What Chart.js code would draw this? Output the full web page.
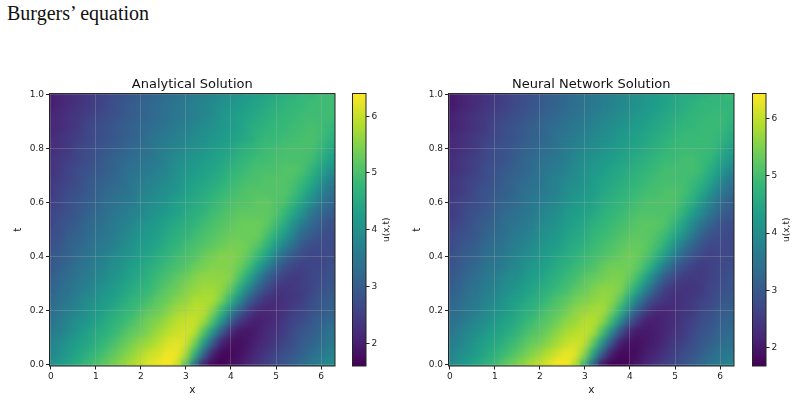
<!DOCTYPE html>
<html>
<head>
<meta charset="utf-8">
<title>Burgers' equation</title>
<script src="https://cdn.jsdelivr.net/npm/chart.js@4"></script>
<style>
  html, body { margin: 0; padding: 0; background: #fff; overflow: hidden; }
  #page { position: relative; width: 797px; height: 400px; }
  #heading { position: absolute; left: 7px; top: 2px; font: 20px "Liberation Serif", serif; color: #111; white-space: nowrap; }
  canvas { position: absolute; top: 70px; }
</style>
</head>
<body>
<div id="page">
  <div id="heading">Burgers’ equation</div>
  <canvas id="heatLeft" width="345" height="330" style="left:0"></canvas>
  <canvas id="barLeft" width="52" height="330" style="left:345px"></canvas>
  <canvas id="heatRight" width="345" height="330" style="left:399px"></canvas>
  <canvas id="barRight" width="52" height="330" style="left:745px"></canvas>
</div>
<script>
const xCells = [0, 0.2, 0.4, 0.6, 0.8, 1, 1.2, 1.4, 1.6, 1.8, 2, 2.2, 2.4, 2.6, 2.8, 3, 3.2, 3.4, 3.6, 3.8, 4, 4.2, 4.4, 4.6, 4.8, 5, 5.2, 5.4, 5.6, 5.8, 6, 6.2, 6.4];
const tCells = [0, 0.04, 0.08, 0.12, 0.16, 0.2, 0.24, 0.28, 0.32, 0.36, 0.4, 0.44, 0.48, 0.52, 0.56, 0.6, 0.64, 0.68, 0.72, 0.76, 0.8, 0.84, 0.88, 0.92, 0.96, 1];
const xTicks = [0, 1, 2, 3, 4, 5, 6];
const tTicks = [0, 0.2, 0.4, 0.6, 0.8, 1];
const colorbarTicks = [2, 3, 4, 5, 6];

// one row per entry of tCells, bottom row first
const analyticalU = [
  [4.0,4.2,4.4,4.6,4.8,5.0,5.2,5.4,5.6,5.8,6.0,6.2,6.3,6.4,6.1,5.2,3.5,2.1,1.7,1.6,1.8,1.9,2.1,2.3,2.5,2.7,2.9,3.1,3.3,3.5,3.7,3.9,4.1],
  [3.8,4.0,4.2,4.4,4.6,4.8,5.0,5.2,5.4,5.6,5.8,6.0,6.1,6.3,6.3,5.8,4.7,3.2,2.1,1.7,1.7,1.8,2.0,2.2,2.4,2.6,2.8,2.9,3.1,3.3,3.5,3.7,3.9],
  [3.7,3.9,4.1,4.3,4.4,4.6,4.8,5.0,5.2,5.4,5.6,5.7,5.9,6.1,6.2,6.1,5.4,4.3,3.0,2.1,1.8,1.8,1.9,2.1,2.2,2.4,2.6,2.8,3.0,3.1,3.3,3.5,3.7],
  [3.6,3.7,3.9,4.1,4.3,4.5,4.6,4.8,5.0,5.2,5.3,5.5,5.7,5.9,6.0,6.1,5.9,5.1,4.1,3.0,2.2,1.9,1.9,2.0,2.2,2.3,2.5,2.7,2.9,3.0,3.2,3.4,3.6],
  [3.4,3.6,3.8,4.0,4.1,4.3,4.5,4.7,4.8,5.0,5.2,5.4,5.5,5.7,5.9,6.0,6.0,5.7,5.0,4.1,3.1,2.4,2.1,2.0,2.1,2.2,2.4,2.6,2.7,2.9,3.1,3.2,3.4],
  [3.3,3.5,3.7,3.8,4.0,4.2,4.3,4.5,4.7,4.8,5.0,5.2,5.3,5.5,5.7,5.8,5.9,5.9,5.5,4.8,3.9,3.1,2.5,2.2,2.1,2.2,2.3,2.5,2.6,2.8,2.9,3.1,3.3],
  [3.2,3.4,3.5,3.7,3.9,4.0,4.2,4.3,4.5,4.7,4.8,5.0,5.2,5.3,5.5,5.6,5.8,5.8,5.8,5.4,4.7,3.9,3.1,2.6,2.3,2.2,2.3,2.4,2.5,2.7,2.9,3.0,3.2],
  [3.1,3.3,3.4,3.6,3.7,3.9,4.1,4.2,4.4,4.5,4.7,4.8,5.0,5.2,5.3,5.5,5.6,5.7,5.7,5.6,5.2,4.5,3.8,3.1,2.7,2.4,2.3,2.4,2.5,2.6,2.8,2.9,3.1],
  [3.0,3.2,3.3,3.5,3.6,3.8,3.9,4.1,4.2,4.4,4.5,4.7,4.9,5.0,5.2,5.3,5.5,5.6,5.6,5.6,5.5,5.0,4.4,3.7,3.1,2.7,2.5,2.4,2.5,2.6,2.7,2.8,3.0],
  [2.9,3.1,3.2,3.4,3.5,3.7,3.8,4.0,4.1,4.3,4.4,4.6,4.7,4.9,5.0,5.1,5.3,5.4,5.5,5.5,5.5,5.3,4.9,4.3,3.7,3.2,2.8,2.6,2.5,2.6,2.6,2.8,2.9],
  [2.9,3.0,3.1,3.3,3.4,3.6,3.7,3.9,4.0,4.1,4.3,4.4,4.6,4.7,4.9,5.0,5.1,5.3,5.4,5.5,5.5,5.4,5.2,4.8,4.3,3.7,3.2,2.9,2.7,2.6,2.6,2.7,2.8],
  [2.8,2.9,3.1,3.2,3.3,3.5,3.6,3.7,3.9,4.0,4.2,4.3,4.4,4.6,4.7,4.9,5.0,5.1,5.2,5.3,5.4,5.4,5.3,5.1,4.7,4.2,3.7,3.3,2.9,2.7,2.7,2.7,2.8],
  [2.7,2.8,3.0,3.1,3.2,3.4,3.5,3.6,3.8,3.9,4.1,4.2,4.3,4.5,4.6,4.7,4.9,5.0,5.1,5.2,5.3,5.3,5.3,5.3,5.0,4.6,4.2,3.7,3.2,3.0,2.8,2.7,2.8],
  [2.6,2.8,2.9,3.0,3.2,3.3,3.4,3.6,3.7,3.8,4.0,4.1,4.2,4.4,4.5,4.6,4.7,4.9,5.0,5.1,5.2,5.3,5.3,5.3,5.2,4.9,4.5,4.0,3.6,3.2,3.0,2.8,2.8],
  [2.6,2.7,2.8,2.9,3.1,3.2,3.3,3.5,3.6,3.7,3.8,4.0,4.1,4.2,4.3,4.5,4.6,4.7,4.9,5.0,5.1,5.2,5.2,5.2,5.2,5.1,4.8,4.4,4.0,3.5,3.2,3.0,2.9],
  [2.5,2.6,2.8,2.9,3.0,3.1,3.3,3.4,3.5,3.6,3.8,3.9,4.0,4.1,4.3,4.4,4.5,4.6,4.8,4.9,5.0,5.1,5.1,5.2,5.2,5.1,5.0,4.7,4.3,3.9,3.5,3.2,3.0],
  [2.4,2.6,2.7,2.8,2.9,3.1,3.2,3.3,3.4,3.5,3.7,3.8,3.9,4.0,4.1,4.3,4.4,4.5,4.6,4.8,4.9,5.0,5.1,5.1,5.1,5.1,5.1,4.9,4.6,4.2,3.8,3.4,3.2],
  [2.4,2.5,2.6,2.7,2.9,3.0,3.1,3.2,3.3,3.5,3.6,3.7,3.8,3.9,4.0,4.2,4.3,4.4,4.5,4.6,4.8,4.9,5.0,5.0,5.1,5.1,5.1,5.0,4.8,4.5,4.1,3.7,3.4],
  [2.3,2.4,2.6,2.7,2.8,2.9,3.0,3.1,3.3,3.4,3.5,3.6,3.7,3.8,4.0,4.1,4.2,4.3,4.4,4.5,4.7,4.8,4.9,5.0,5.0,5.0,5.1,5.1,5.0,4.7,4.4,4.0,3.7],
  [2.3,2.4,2.5,2.6,2.7,2.8,3.0,3.1,3.2,3.3,3.4,3.5,3.6,3.8,3.9,4.0,4.1,4.2,4.3,4.4,4.5,4.7,4.8,4.9,4.9,5.0,5.0,5.0,5.0,4.9,4.6,4.3,3.9],
  [2.2,2.3,2.4,2.6,2.7,2.8,2.9,3.0,3.1,3.2,3.3,3.4,3.6,3.7,3.8,3.9,4.0,4.1,4.2,4.3,4.4,4.6,4.7,4.8,4.9,4.9,5.0,5.0,5.0,5.0,4.8,4.5,4.2],
  [2.2,2.3,2.4,2.5,2.6,2.7,2.8,2.9,3.0,3.1,3.2,3.4,3.5,3.6,3.7,3.8,3.9,4.0,4.1,4.2,4.3,4.4,4.5,4.7,4.8,4.8,4.9,4.9,5.0,5.0,4.9,4.7,4.4],
  [2.1,2.2,2.3,2.4,2.6,2.7,2.8,2.9,3.0,3.1,3.2,3.3,3.4,3.5,3.6,3.7,3.8,3.9,4.0,4.1,4.2,4.3,4.5,4.6,4.7,4.8,4.8,4.9,4.9,5.0,4.9,4.8,4.6],
  [2.1,2.2,2.3,2.4,2.5,2.6,2.7,2.8,2.9,3.0,3.1,3.2,3.3,3.4,3.5,3.6,3.7,3.8,3.9,4.1,4.2,4.3,4.4,4.5,4.6,4.7,4.8,4.8,4.9,4.9,4.9,4.9,4.7],
  [2.0,2.1,2.2,2.3,2.4,2.5,2.6,2.8,2.9,3.0,3.1,3.2,3.3,3.4,3.5,3.6,3.7,3.8,3.9,4.0,4.1,4.2,4.3,4.4,4.5,4.6,4.7,4.8,4.8,4.9,4.9,4.9,4.8],
  [2.0,2.1,2.2,2.3,2.4,2.5,2.6,2.7,2.8,2.9,3.0,3.1,3.2,3.3,3.4,3.5,3.6,3.7,3.8,3.9,4.0,4.1,4.2,4.3,4.4,4.5,4.6,4.7,4.8,4.8,4.9,4.9,4.9],
];

const networkU = [
  [3.9,4.1,4.3,4.5,4.7,4.9,5.2,5.4,5.6,5.8,6.0,6.2,6.4,6.4,5.9,4.8,3.2,2.0,1.7,1.7,1.8,2.0,2.2,2.4,2.6,2.7,2.9,3.1,3.3,3.5,3.6,3.8,4.0],
  [3.8,4.0,4.1,4.3,4.5,4.7,4.9,5.1,5.3,5.5,5.7,5.9,6.1,6.3,6.2,5.6,4.4,3.0,2.1,1.8,1.8,1.9,2.1,2.2,2.4,2.6,2.8,2.9,3.1,3.3,3.5,3.6,3.8],
  [3.7,3.8,4.0,4.2,4.4,4.5,4.7,4.9,5.1,5.3,5.4,5.6,5.8,6.0,6.1,6.0,5.2,4.1,2.9,2.1,1.9,1.9,2.0,2.1,2.3,2.5,2.6,2.8,3.0,3.1,3.3,3.4,3.6],
  [3.5,3.7,3.9,4.0,4.2,4.4,4.5,4.7,4.9,5.1,5.2,5.4,5.6,5.8,5.9,6.0,5.8,5.0,3.9,2.9,2.2,2.0,2.0,2.1,2.2,2.4,2.5,2.7,2.9,3.0,3.2,3.3,3.5],
  [3.4,3.5,3.7,3.9,4.0,4.2,4.4,4.5,4.7,4.9,5.1,5.2,5.4,5.6,5.7,5.9,5.9,5.6,4.9,3.9,3.0,2.4,2.1,2.1,2.2,2.3,2.5,2.6,2.8,2.9,3.1,3.2,3.4],
  [3.3,3.4,3.6,3.7,3.9,4.1,4.2,4.4,4.6,4.7,4.9,5.1,5.2,5.4,5.6,5.7,5.8,5.8,5.4,4.7,3.8,3.0,2.5,2.2,2.2,2.3,2.4,2.5,2.7,2.8,3.0,3.1,3.3],
  [3.2,3.3,3.5,3.6,3.8,3.9,4.1,4.3,4.4,4.6,4.7,4.9,5.1,5.2,5.4,5.5,5.6,5.7,5.6,5.2,4.5,3.7,3.0,2.6,2.4,2.3,2.4,2.5,2.6,2.7,2.9,3.0,3.2],
  [3.1,3.2,3.4,3.5,3.7,3.8,4.0,4.1,4.3,4.4,4.6,4.7,4.9,5.0,5.2,5.3,5.5,5.6,5.6,5.5,5.0,4.4,3.7,3.0,2.6,2.4,2.4,2.4,2.5,2.7,2.8,2.9,3.1],
  [3.0,3.1,3.3,3.4,3.6,3.7,3.9,4.0,4.1,4.3,4.4,4.6,4.7,4.9,5.0,5.2,5.3,5.4,5.5,5.5,5.3,4.9,4.2,3.6,3.0,2.7,2.5,2.5,2.5,2.6,2.7,2.9,3.0],
  [2.9,3.0,3.2,3.3,3.5,3.6,3.7,3.9,4.0,4.2,4.3,4.4,4.6,4.7,4.9,5.0,5.1,5.3,5.4,5.4,5.4,5.2,4.8,4.2,3.6,3.1,2.8,2.6,2.5,2.6,2.7,2.8,2.9],
  [2.8,3.0,3.1,3.2,3.4,3.5,3.6,3.8,3.9,4.0,4.2,4.3,4.5,4.6,4.7,4.9,5.0,5.1,5.2,5.3,5.4,5.3,5.1,4.7,4.2,3.7,3.2,2.9,2.7,2.6,2.7,2.7,2.8],
  [2.7,2.9,3.0,3.1,3.3,3.4,3.5,3.7,3.8,3.9,4.1,4.2,4.3,4.5,4.6,4.7,4.9,5.0,5.1,5.2,5.3,5.3,5.2,5.0,4.6,4.1,3.6,3.2,2.9,2.7,2.7,2.7,2.8],
  [2.7,2.8,2.9,3.0,3.2,3.3,3.4,3.6,3.7,3.8,4.0,4.1,4.2,4.4,4.5,4.6,4.8,4.9,5.0,5.1,5.2,5.2,5.2,5.1,4.9,4.5,4.1,3.6,3.2,2.9,2.8,2.7,2.8],
  [2.6,2.7,2.8,3.0,3.1,3.2,3.4,3.5,3.6,3.7,3.9,4.0,4.1,4.3,4.4,4.5,4.7,4.8,4.9,5.0,5.1,5.2,5.2,5.2,5.1,4.8,4.4,3.9,3.5,3.2,2.9,2.8,2.8],
  [2.5,2.6,2.8,2.9,3.0,3.1,3.3,3.4,3.5,3.6,3.8,3.9,4.0,4.2,4.3,4.4,4.5,4.7,4.8,4.9,5.0,5.1,5.1,5.1,5.1,5.0,4.7,4.3,3.9,3.5,3.2,3.0,2.9],
  [2.5,2.6,2.7,2.8,2.9,3.1,3.2,3.3,3.4,3.6,3.7,3.8,3.9,4.1,4.2,4.3,4.4,4.6,4.7,4.8,4.9,5.0,5.1,5.1,5.1,5.1,4.9,4.6,4.2,3.8,3.4,3.1,3.0],
  [2.4,2.5,2.6,2.8,2.9,3.0,3.1,3.2,3.4,3.5,3.6,3.7,3.8,4.0,4.1,4.2,4.3,4.5,4.6,4.7,4.8,4.9,5.0,5.0,5.1,5.1,5.0,4.8,4.5,4.1,3.7,3.4,3.1],
  [2.4,2.5,2.6,2.7,2.8,2.9,3.1,3.2,3.3,3.4,3.5,3.7,3.8,3.9,4.0,4.1,4.3,4.4,4.5,4.6,4.7,4.8,4.9,5.0,5.0,5.0,5.0,4.9,4.7,4.4,4.0,3.6,3.3],
  [2.3,2.4,2.5,2.6,2.8,2.9,3.0,3.1,3.2,3.3,3.5,3.6,3.7,3.8,3.9,4.1,4.2,4.3,4.4,4.5,4.6,4.7,4.8,4.9,5.0,5.0,5.0,5.0,4.9,4.6,4.3,3.9,3.6],
  [2.3,2.4,2.5,2.6,2.7,2.8,2.9,3.0,3.2,3.3,3.4,3.5,3.6,3.7,3.9,4.0,4.1,4.2,4.3,4.4,4.5,4.6,4.7,4.8,4.9,4.9,5.0,5.0,4.9,4.8,4.5,4.2,3.8],
  [2.2,2.3,2.4,2.5,2.7,2.8,2.9,3.0,3.1,3.2,3.3,3.4,3.5,3.7,3.8,3.9,4.0,4.1,4.2,4.3,4.4,4.5,4.6,4.7,4.8,4.9,4.9,4.9,4.9,4.9,4.7,4.4,4.1],
  [2.2,2.3,2.4,2.5,2.6,2.7,2.8,2.9,3.0,3.1,3.2,3.3,3.5,3.6,3.7,3.8,3.9,4.0,4.1,4.2,4.3,4.4,4.5,4.6,4.7,4.8,4.9,4.9,4.9,4.9,4.8,4.6,4.3],
  [2.1,2.2,2.3,2.4,2.5,2.7,2.8,2.9,3.0,3.1,3.2,3.3,3.4,3.5,3.6,3.7,3.8,3.9,4.0,4.1,4.2,4.3,4.4,4.5,4.6,4.7,4.8,4.8,4.9,4.9,4.9,4.7,4.5],
  [2.1,2.2,2.3,2.4,2.5,2.6,2.7,2.8,2.9,3.0,3.1,3.2,3.3,3.4,3.5,3.6,3.7,3.8,3.9,4.0,4.1,4.2,4.3,4.4,4.5,4.6,4.7,4.8,4.8,4.9,4.9,4.8,4.7],
  [2.0,2.1,2.2,2.3,2.4,2.5,2.6,2.7,2.8,2.9,3.0,3.1,3.2,3.3,3.4,3.5,3.6,3.7,3.8,3.9,4.0,4.1,4.2,4.3,4.4,4.5,4.6,4.7,4.8,4.8,4.8,4.8,4.7],
  [2.0,2.1,2.2,2.3,2.4,2.5,2.6,2.7,2.8,2.9,3.0,3.1,3.2,3.3,3.4,3.5,3.6,3.7,3.8,3.9,4.0,4.1,4.2,4.3,4.4,4.5,4.6,4.6,4.7,4.8,4.8,4.9,4.9],
];

const viridis = [
  [68, 1, 84], [72, 40, 120], [62, 74, 137], [49, 104, 142], [38, 130, 142],
  [31, 158, 137], [53, 183, 121], [109, 205, 89], [180, 222, 44], [253, 231, 37],
];

function viridisColor(value, min, max) {
  const pos = Math.min(Math.max((value - min) / (max - min), 0), 1) * (viridis.length - 1);
  const low = Math.min(Math.floor(pos), viridis.length - 2);
  const mix = pos - low;
  const rgb = viridis[low].map((c, i) => Math.round(c + (viridis[low + 1][i] - c) * mix));
  return `rgb(${rgb[0]},${rgb[1]},${rgb[2]})`;
}

// softens the cell edges, the reference grid is much finer than ours
const softCellsPlugin = {
  id: "softCells",
  afterDatasetsDraw(chart) {
    const { ctx, canvas, chartArea: a } = chart;
    const w = a.right - a.left;
    const h = a.bottom - a.top;
    ctx.save();
    ctx.beginPath();
    ctx.rect(a.left, a.top, w, h);
    ctx.clip();
    ctx.filter = "blur(3.5px)";
    ctx.drawImage(canvas, a.left, a.top, w, h, a.left, a.top, w, h);
    ctx.restore();
  },
};

// axes frame on all four sides
const framePlugin = {
  id: "frame",
  afterDraw(chart) {
    const { ctx, chartArea: a } = chart;
    ctx.save();
    ctx.strokeStyle = "#222";
    ctx.lineWidth = 1;
    ctx.strokeRect(a.left, a.top, a.right - a.left, a.bottom - a.top);
    ctx.restore();
  },
};

const colorbarLabelPlugin = {
  id: "colorbarLabel",
  afterDraw(chart) {
    const { ctx, chartArea: a } = chart;
    ctx.save();
    ctx.translate(41.7, (a.top + a.bottom) / 2);
    ctx.rotate(-Math.PI / 2);
    ctx.font = '9px "DejaVu Sans"';
    ctx.fillStyle = "#222";
    ctx.textAlign = "center";
    ctx.textBaseline = "middle";
    ctx.fillText("u(x,t)", 0, 0);
    ctx.restore();
  },
};

function drawHeatmap(id, title, rows, min, max) {
  const gridColor = "rgba(176,176,176,0.28)";
  const datasets = rows.map((row, r) => ({
    data: row.map((value, c) => ({ x: xCells[c], y: [tCells[r] - 0.02, tCells[r] + 0.02] })),
    backgroundColor: row.map((value) => viridisColor(value, min, max)),
    borderWidth: 0,
    grouped: false,
    barPercentage: 1,
    categoryPercentage: 1,
    clip: 0,
  }));

  new Chart(document.getElementById(id), {
    type: "bar",
    data: { datasets: datasets },
    options: {
      responsive: false,
      animation: false,
      layout: { padding: { right: 10 } },
      plugins: {
        legend: { display: false },
        tooltip: { enabled: false },
        title: {
          display: true,
          text: title,
          fullSize: false,
          color: "#111",
          font: { family: "DejaVu Sans", size: 13, weight: "normal" },
          padding: { top: 7, bottom: 1 },
        },
      },
      scales: {
        x: {
          type: "linear",
          offset: false,
          min: -0.03,
          max: 6.31,
          afterFit: (scale) => { scale.height = 34; },
          afterBuildTicks: (scale) => { scale.ticks = xTicks.map((v) => ({ value: v })); },
          border: { display: false },
          grid: { offset: false, z: 1, color: gridColor, tickColor: "#222", tickLength: 3.5, lineWidth: 1 },
          ticks: { color: "#222", font: { family: "DejaVu Sans", size: 9 }, padding: 2, maxRotation: 0, autoSkip: false, callback: (v) => String(v) },
          title: { display: true, text: "x", color: "#222", font: { family: "DejaVu Sans", size: 10.5 }, padding: { top: 2, bottom: 3 } },
        },
        y: {
          type: "linear",
          min: -0.005,
          max: 1.005,
          afterFit: (scale) => { scale.width = 49.5; },
          afterBuildTicks: (scale) => { scale.ticks = tTicks.map((v) => ({ value: v })); },
          border: { display: false },
          grid: { z: 1, color: gridColor, tickColor: "#222", tickLength: 3.5, lineWidth: 1 },
          ticks: { color: "#222", font: { family: "DejaVu Sans", size: 9 }, padding: 2, autoSkip: false, callback: (v) => v.toFixed(1) },
          title: { display: true, text: "t", color: "#222", font: { family: "DejaVu Sans", size: 10.5 }, padding: { top: 12, bottom: 0 } },
        },
      },
    },
    plugins: [softCellsPlugin, framePlugin],
  });
}

function drawColorbar(id, min, max) {
  new Chart(document.getElementById(id), {
    type: "bar",
    data: {
      labels: [""],
      datasets: [
        {
          data: [[min, max]],
          borderWidth: 0,
          barPercentage: 1,
          categoryPercentage: 1,
          backgroundColor: (context) => {
            const area = context.chart.chartArea;
            if (!area) return "#21918c";
            const gradient = context.chart.ctx.createLinearGradient(0, area.bottom, 0, area.top);
            viridis.forEach((rgb, i) => {
              gradient.addColorStop(i / (viridis.length - 1), `rgb(${rgb[0]},${rgb[1]},${rgb[2]})`);
            });
            return gradient;
          },
        },
      ],
    },
    options: {
      responsive: false,
      animation: false,
      layout: { padding: { left: 7.5, top: 23.5, bottom: 34 } },
      plugins: { legend: { display: false }, tooltip: { enabled: false } },
      scales: {
        x: { display: false },
        y: {
          position: "right",
          min: min,
          max: max,
          afterFit: (scale) => { scale.width = 31; },
          afterBuildTicks: (scale) => { scale.ticks = colorbarTicks.map((v) => ({ value: v })); },
          border: { display: false },
          grid: { drawOnChartArea: false, tickColor: "#222", tickLength: 3.5 },
          ticks: { color: "#222", font: { family: "DejaVu Sans", size: 9 }, padding: 2, autoSkip: false, callback: (v) => String(v) },
        },
      },
    },
    plugins: [framePlugin, colorbarLabelPlugin],
  });
}

drawHeatmap("heatLeft", "Analytical Solution", analyticalU, 1.6, 6.4);
drawColorbar("barLeft", 1.6, 6.4);
drawHeatmap("heatRight", "Neural Network Solution", networkU, 1.68, 6.435);
drawColorbar("barRight", 1.68, 6.435);
</script>
</body>
</html>
